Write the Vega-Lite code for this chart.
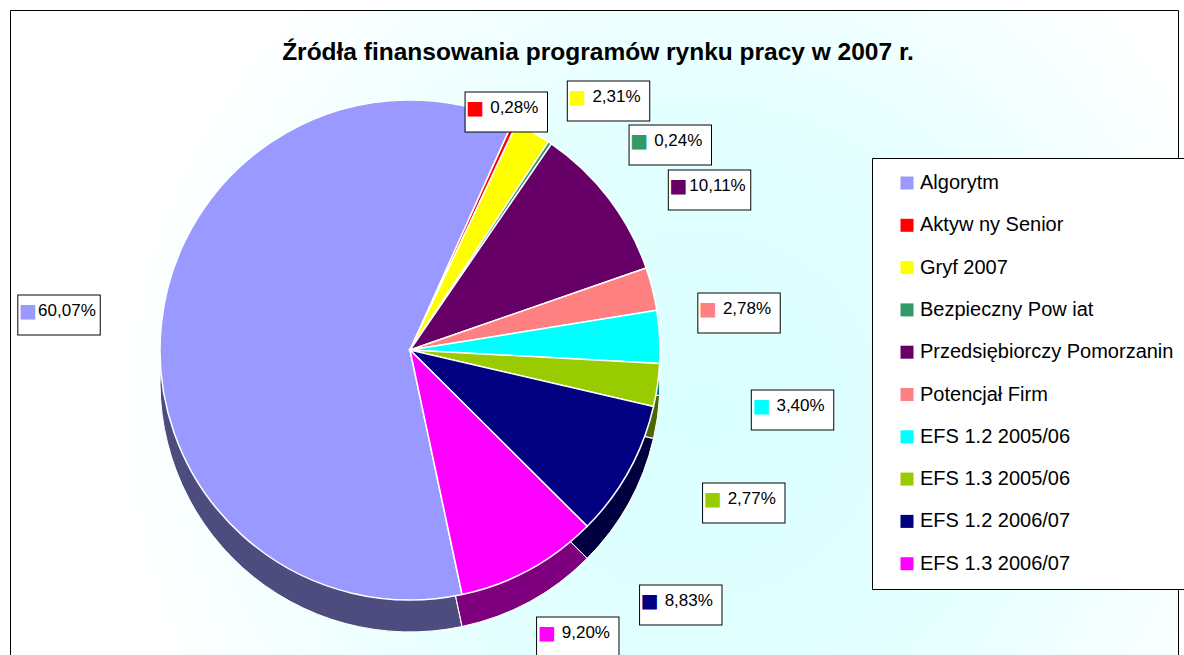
{
  "$schema": "https://vega.github.io/schema/vega-lite/v6.json",
  "width": 1168,
  "height": 645,
  "autosize": {"type": "none"},
  "padding": {"left": 10, "top": 10, "right": 6, "bottom": 0},
  "background": "white",
  "title": {
    "text": "Źródła finansowania programów rynku pracy w 2007 r.",
    "font": "Liberation Sans",
    "fontSize": 24.5,
    "fontWeight": "bold",
    "color": "black",
    "anchor": "middle",
    "offset": -74,
    "dx": 4,
    "baseline": "alphabetic"
  },
  "config": {
    "locale": {"number": {"decimal": ",", "thousands": " ", "grouping": [3], "currency": ["", " zł"]}},
    "view": {
      "stroke": "black",
      "strokeWidth": 1,
      "fill": {
        "gradient": "radial",
        "x1": 0.59, "y1": 0.57, "r1": 0,
        "x2": 0.59, "y2": 0.57, "r2": 0.5,
        "stops": [
          {"offset": 0, "color": "#d9ffff"},
          {"offset": 0.5, "color": "#e3ffff"},
          {"offset": 1, "color": "#ffffff"}
        ]
      }
    },
    "legend": {
      "orient": "none",
      "legendX": 862,
      "legendY": 148,
      "title": null,
      "symbolType": "square",
      "symbolSize": 169,
      "symbolStrokeWidth": 0,
      "symbolOpacity": 1,
      "symbolOffset": 10,
      "labelFont": "Liberation Sans",
      "labelFontSize": 20,
      "labelColor": "black",
      "labelOffset": 3,
      "labelLimit": 400,
      "rowPadding": 22.3,
      "padding": 15,
      "strokeColor": "black",
      "fillColor": "white",
      "cornerRadius": 0
    }
  },
  "data": {
    "values": [
      {"name": "Algorytm", "share": 0.6007, "idx": 0},
      {"name": "Aktyw ny Senior", "share": 0.0028, "idx": 1},
      {"name": "Gryf 2007", "share": 0.0231, "idx": 2},
      {"name": "Bezpieczny Pow iat", "share": 0.0024, "idx": 3},
      {"name": "Przedsiębiorczy Pomorzanin", "share": 0.1011, "idx": 4},
      {"name": "Potencjał Firm", "share": 0.0278, "idx": 5},
      {"name": "EFS 1.2 2005/06", "share": 0.034, "idx": 6},
      {"name": "EFS 1.3 2005/06", "share": 0.0277, "idx": 7},
      {"name": "EFS 1.2 2006/07", "share": 0.0883, "idx": 8},
      {"name": "EFS 1.3 2006/07", "share": 0.092, "idx": 9}
    ]
  },
  "encoding": {
    "theta": {"field": "share", "type": "quantitative", "stack": true, "scale": {"range": [2.932, 9.215]}},
    "order": {"field": "idx", "type": "quantitative"}
  },
  "layer": [
    {
      "mark": {"type": "arc", "outerRadius": 250, "stroke": "white", "strokeWidth": 1},
      "encoding": {
        "x": {"value": 400},
        "y": {"value": 372},
        "color": {
          "field": "name", "type": "nominal",
          "scale": {
            "domain": ["Algorytm", "Aktyw ny Senior", "Gryf 2007", "Bezpieczny Pow iat", "Przedsiębiorczy Pomorzanin", "Potencjał Firm", "EFS 1.2 2005/06", "EFS 1.3 2005/06", "EFS 1.2 2006/07", "EFS 1.3 2006/07"],
            "range": ["#9999ff", "#ff0000", "#ffff00", "#339966", "#660066", "#ff8080", "#00ffff", "#99cc00", "#000080", "#ff00ff"]
          }
        }
      }
    },
    {
      "mark": {"type": "arc", "outerRadius": 250, "fill": "black", "fillOpacity": 0.5, "stroke": "white", "strokeWidth": 1},
      "encoding": {"x": {"value": 400}, "y": {"value": 372}}
    },
    {
      "mark": {"type": "arc", "outerRadius": 250, "stroke": "white", "strokeWidth": 1.5},
      "encoding": {
        "x": {"value": 400},
        "y": {"value": 340},
        "color": {"field": "name", "type": "nominal"}
      }
    },
    {
      "mark": {
        "type": "text", "text": "▬", "font": "DejaVu Sans", "fontSize": 108,
        "fill": "white", "stroke": "black", "strokeWidth": 1,
        "align": "center", "baseline": "middle",
        "radius": {"expr": "[340,280,290,290,290,330,330,330,330,330][datum.idx]"},
        "dx": {"expr": "[-13,-21,56,98,69,9,53,7,-18,10][datum.idx]"},
        "dy": {"expr": "[-3,12,0,31,12,40,73,103,91,-7][datum.idx]"}
      },
      "encoding": {"x": {"value": 400}, "y": {"value": 340}}
    },
    {
      "mark": {
        "type": "text", "text": "■", "font": "DejaVu Sans", "fontSize": 19,
        "align": "center", "baseline": "middle",
        "radius": {"expr": "[340,280,290,290,290,330,330,330,330,330][datum.idx]"},
        "dx": {"expr": "-31+[-13,-21,56,98,69,9,53,7,-18,10][datum.idx]"},
        "dy": {"expr": "[-3,12,0,31,12,40,73,103,91,-7][datum.idx]"}
      },
      "encoding": {"x": {"value": 400}, "y": {"value": 340}, "color": {"field": "name", "type": "nominal"}}
    },
    {
      "mark": {
        "type": "text", "font": "Liberation Sans", "fontSize": 17, "fill": "black",
        "align": "center", "baseline": "middle",
        "radius": {"expr": "[340,280,290,290,290,330,330,330,330,330][datum.idx]"},
        "dx": {"expr": "8+[-13,-21,56,98,69,9,53,7,-18,10][datum.idx]"},
        "dy": {"expr": "[-3,12,0,31,12,40,73,103,91,-7][datum.idx]"}
      },
      "encoding": {
        "x": {"value": 400}, "y": {"value": 340},
        "text": {"field": "share", "type": "quantitative", "format": ".2%"}
      }
    }
  ]
}
